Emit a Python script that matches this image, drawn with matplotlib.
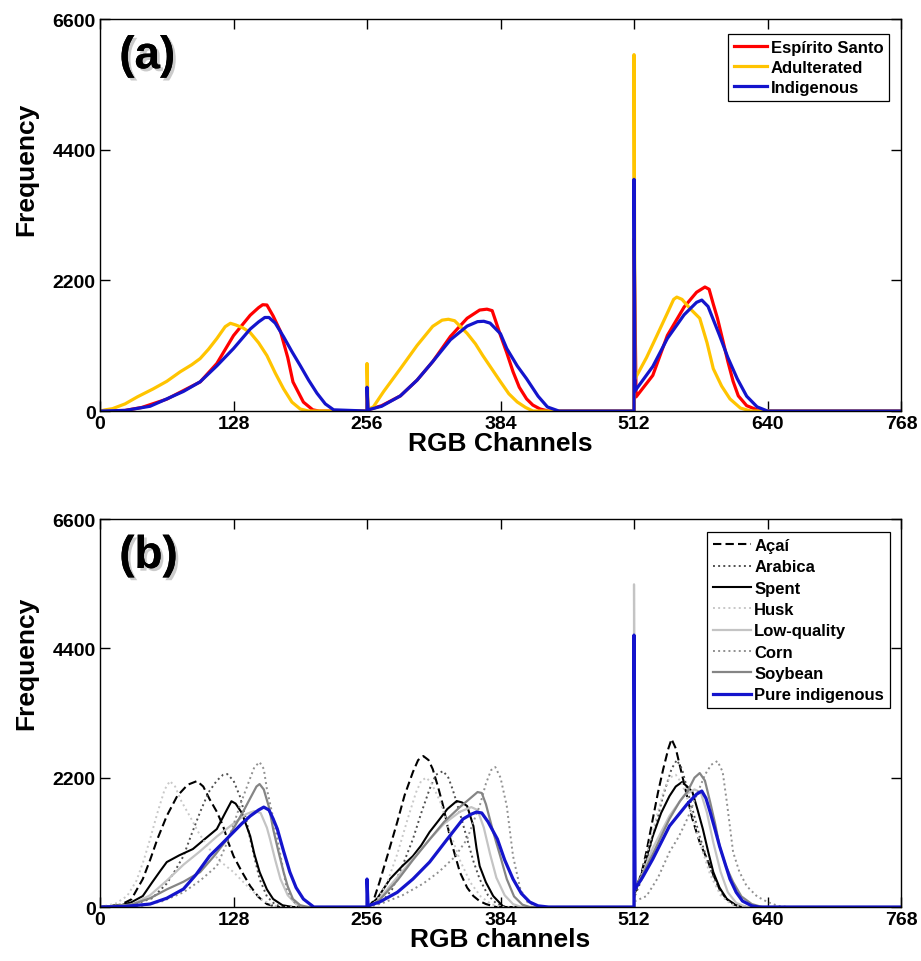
import matplotlib
matplotlib.use("Agg")
import matplotlib.pyplot as plt
import matplotlib.patheffects as pe

plt.rcParams['font.family'] = ['Liberation Sans', 'DejaVu Sans']
plt.rcParams['font.weight'] = 'bold'

# -----------------------------
# Histogram data (R: 0-255, G: 256-511, B: 512-767)
# -----------------------------

# (a) Espirito Santo
es_x = [0, 24, 40, 64, 96, 112, 128, 144, 152, 156, 160, 166, 173, 180, 185, 195, 204, 210, 256,
        256, 257, 270, 288, 304, 319, 336, 352, 364, 371, 376, 384, 390, 396, 402, 409, 415, 422, 430, 512,
        512, 514, 530, 544, 560, 572, 580, 584, 588, 592, 597, 602, 607, 612, 620, 630, 640, 768]
es_y = [0, 10, 60, 200, 490, 800, 1270, 1613, 1740, 1790, 1785, 1600, 1341, 900, 490, 150, 20, 0, 0,
        350, 20, 90, 255, 520, 832, 1256, 1562, 1700, 1715, 1690, 1273, 980, 662, 400, 204, 100, 34, 0, 0,
        2900, 238, 600, 1273, 1750, 2000, 2088, 2050, 1800, 1562, 1200, 832, 500, 255, 90, 20, 0, 0]

# (a) Adulterated
adul_x = [0, 5, 12, 24, 36, 51, 64, 77, 88, 96, 104, 112, 120, 125, 130, 137, 144, 152, 160, 168, 176, 184, 192, 200, 256,
          256, 257, 262, 272, 288, 304, 319, 328, 334, 340, 352, 360, 367, 376, 384, 392, 400, 408, 415, 512,
          512, 513, 524, 534, 544, 550, 553, 558, 566, 575, 582, 588, 596, 604, 614, 624, 768]
adul_y = [0, 20, 40, 120, 240, 373, 500, 662, 780, 883, 1040, 1220, 1420, 1477, 1450, 1400, 1320, 1150, 934, 640, 373, 150, 34, 0, 0,
          800, 30, 68, 330, 713, 1104, 1426, 1530, 1545, 1520, 1307, 1130, 934, 700, 492, 290, 153, 60, 0, 0,
          6000, 543, 900, 1273, 1650, 1880, 1918, 1880, 1720, 1562, 1150, 713, 420, 204, 50, 0, 0]

# (a) Indigenous
ind_x = [0, 24, 48, 64, 80, 96, 112, 128, 144, 152, 158, 162, 168, 176, 184, 192, 200, 208, 216, 224, 256,
         256, 257, 270, 288, 304, 319, 336, 352, 362, 368, 374, 384, 390, 400, 409, 420, 429, 440, 512,
         512, 513, 530, 544, 560, 572, 577, 583, 594, 602, 611, 620, 630, 640, 768]
ind_y = [0, 10, 80, 204, 330, 492, 760, 1052, 1380, 1500, 1575, 1575, 1480, 1250, 1000, 764, 520, 300, 120, 20, 0,
         400, 20, 80, 255, 520, 832, 1200, 1430, 1505, 1511, 1480, 1300, 1052, 760, 543, 250, 68, 0, 0,
         3900, 340, 750, 1222, 1620, 1830, 1868, 1760, 1273, 900, 543, 250, 70, 0, 0]

# (b) Acai
acai_x = [0, 20, 30, 41, 48, 55, 64, 74, 84, 93, 99, 105, 112, 118, 123, 128, 136, 144, 152, 160, 170, 256,
          256, 257, 262, 268, 276, 285, 292, 300, 305, 310, 315, 319, 324, 329, 336, 345, 352, 358, 364, 370, 380, 512,
          512, 513, 518, 524, 530, 535, 540, 545, 548, 552, 559, 568, 575, 582, 588, 594, 600, 607, 615, 768]
acai_y = [0, 40, 130, 476, 800, 1156, 1550, 1888, 2080, 2143, 2050, 1837, 1620, 1378, 1100, 867, 600, 357, 170, 51, 0, 0,
          300, 0, 100, 425, 900, 1446, 1900, 2296, 2500, 2568, 2500, 2347, 2050, 1718, 1156, 595, 330, 187, 100, 51, 0, 0,
          3000, 250, 476, 950, 1497, 1950, 2347, 2700, 2857, 2700, 2177, 1497, 1100, 816, 550, 306, 150, 50, 0, 0]

# (b) Arabica
arab_x = [0, 30, 50, 64, 72, 80, 88, 96, 104, 112, 118, 122, 128, 134, 140, 144, 148, 153, 160, 168, 176, 256,
          256, 257, 270, 280, 290, 300, 308, 316, 322, 329, 334, 338, 345, 352, 358, 364, 372, 380, 390, 512,
          512, 513, 520, 530, 540, 548, 553, 558, 566, 575, 585, 595, 605, 615, 768]
arab_y = [0, 30, 150, 400, 620, 867, 1250, 1616, 1950, 2150, 2250, 2262, 2150, 1888, 1500, 1156, 850, 476, 180, 40, 0, 0,
          200, 0, 80, 300, 700, 1156, 1600, 2007, 2250, 2313, 2200, 2007, 1600, 1156, 780, 476, 200, 60, 0, 0,
          2800, 200, 500, 1200, 1900, 2350, 2500, 2350, 1800, 1200, 650, 250, 60, 0, 0]

# (b) Spent
spent_x = [0, 20, 30, 41, 50, 58, 64, 76, 89, 100, 112, 120, 126, 130, 136, 144, 148, 153, 160, 166, 175, 185, 256,
           256, 257, 266, 278, 290, 300, 308, 316, 325, 333, 342, 347, 352, 358, 361, 364, 370, 377, 387, 512,
           512, 513, 520, 530, 538, 546, 552, 558, 563, 568, 573, 578, 583, 588, 594, 601, 610, 620, 768]
spent_y = [0, 30, 80, 187, 420, 620, 765, 880, 986, 1150, 1327, 1600, 1800, 1760, 1600, 1207, 900, 595, 300, 136, 30, 0, 0,
           250, 0, 150, 476, 700, 867, 1050, 1276, 1480, 1667, 1803, 1780, 1718, 1378, 1000, 697, 420, 187, 0, 0,
           3200, 300, 600, 1207, 1600, 1888, 2050, 2126, 2050, 1956, 1650, 1327, 950, 595, 330, 136, 30, 0, 0]

# (b) Husk
husk_x = [0, 15, 26, 35, 42, 48, 55, 62, 67, 72, 78, 86, 95, 105, 115, 128, 136, 144, 155, 165, 175, 256,
          256, 257, 265, 275, 285, 295, 303, 308, 313, 318, 326, 335, 345, 355, 365, 375, 385, 512,
          512, 513, 520, 530, 540, 546, 552, 558, 566, 575, 585, 595, 605, 615, 768]
husk_y = [0, 60, 187, 450, 800, 1156, 1600, 2000, 2143, 2050, 1800, 1548, 1250, 986, 780, 595, 450, 306, 130, 30, 0, 0,
          200, 0, 100, 400, 900, 1500, 1950, 2150, 2200, 2100, 1800, 1300, 800, 420, 180, 50, 0, 0,
          3500, 300, 600, 1300, 1950, 2200, 2250, 2100, 1700, 1100, 550, 200, 50, 0, 0]

# (b) Low-quality
lowq_x = [0, 30, 48, 64, 80, 96, 112, 128, 140, 148, 154, 160, 163, 168, 173, 180, 188, 196, 256,
          256, 257, 266, 280, 300, 316, 330, 345, 356, 362, 368, 374, 380, 388, 396, 404, 512,
          512, 513, 520, 530, 546, 560, 570, 576, 582, 588, 595, 602, 610, 620, 768]
lowq_y = [0, 40, 200, 450, 720, 950, 1200, 1420, 1580, 1633, 1600, 1350, 1156, 800, 476, 200, 50, 0, 0,
          300, 0, 100, 400, 820, 1150, 1420, 1620, 1700, 1650, 1350, 900, 500, 200, 50, 0, 0,
          5490, 300, 550, 1000, 1550, 1900, 2000, 1950, 1600, 1100, 600, 250, 70, 0, 0]

# (b) Corn
corn_x = [0, 40, 60, 80, 96, 112, 122, 128, 134, 142, 148, 153, 157, 160, 165, 170, 175, 179, 185, 192, 256,
          256, 257, 270, 290, 310, 325, 340, 352, 358, 364, 370, 375, 379, 384, 390, 396, 403, 410, 420, 512,
          512, 513, 524, 535, 546, 555, 563, 572, 580, 586, 592, 597, 601, 607, 613, 620, 630, 640, 650, 660, 768]
corn_y = [0, 20, 100, 250, 450, 697, 1100, 1400, 1718, 2100, 2380, 2466, 2350, 2007, 1600, 1156, 700, 306, 100, 0, 0,
          150, 0, 60, 200, 400, 600, 850, 1156, 1450, 1718, 2100, 2330, 2381, 2200, 1718, 867, 306, 80, 0, 0,
          2500, 100, 187, 500, 935, 1200, 1497, 1900, 2250, 2420, 2483, 2300, 1786, 935, 600, 357, 180, 85, 20, 0, 0]

# (b) Soybean
soy_x = [0, 30, 48, 64, 80, 96, 110, 122, 130, 137, 144, 150, 153, 157, 162, 166, 171, 176, 180, 185, 192, 200, 256,
         256, 257, 268, 285, 300, 316, 330, 345, 355, 362, 366, 370, 377, 384, 390, 397, 405, 412, 512,
         512, 513, 520, 530, 546, 556, 563, 570, 575, 580, 585, 590, 594, 600, 607, 615, 625, 635, 768]
soy_y = [0, 40, 150, 300, 430, 595, 880, 1156, 1400, 1616, 1850, 2050, 2092, 2000, 1700, 1327, 950, 595, 350, 136, 30, 0, 0,
         350, 0, 120, 450, 800, 1150, 1450, 1700, 1850, 1956, 1940, 1750, 1276, 850, 476, 180, 40, 0, 0,
         3800, 300, 550, 900, 1500, 1800, 1956, 2200, 2279, 2150, 1786, 1400, 1037, 700, 425, 180, 50, 0, 0]

# (b) Pure indigenous
pure_x = [0, 24, 48, 64, 80, 92, 105, 116, 128, 136, 144, 152, 157, 162, 166, 170, 176, 182, 188, 195, 205, 256,
          256, 257, 268, 285, 300, 316, 333, 348, 356, 361, 366, 372, 381, 388, 396, 404, 412, 420, 430, 512,
          512, 513, 520, 530, 546, 563, 572, 577, 581, 585, 590, 594, 600, 604, 610, 616, 625, 632, 768]
pure_y = [0, 10, 51, 150, 306, 550, 867, 1060, 1276, 1420, 1548, 1650, 1700, 1650, 1500, 1327, 950, 595, 330, 136, 0, 0,
          476, 20, 85, 250, 476, 765, 1156, 1497, 1580, 1616, 1600, 1450, 1156, 800, 476, 230, 85, 20, 0, 0,
          4626, 306, 500, 816, 1378, 1752, 1920, 1973, 1850, 1616, 1300, 1037, 700, 476, 250, 102, 20, 0, 0]

x_ticks = [0, 128, 256, 384, 512, 640, 768]
y_ticks = [0, 2200, 4400, 6600]

BLUE = '#1414CC'


def style_axes(ax, xlabel, tag, ylab_y):
    ax.set_xlim(0, 768)
    ax.set_ylim(0, 6600)
    ax.set_xticks(x_ticks)
    ax.set_yticks(y_ticks)
    ax.tick_params(direction='in', top=True, right=True, length=7, width=1,
                   labelsize=14, pad=3)
    for lab in ax.get_xticklabels() + ax.get_yticklabels():
        lab.set_fontweight('bold')
    for sp in ax.spines.values():
        sp.set_linewidth(1.0)
    ax.set_xlabel(xlabel, fontsize=19, fontweight='bold', labelpad=-1)
    ax.set_ylabel("Frequency", fontsize=19, fontweight='bold')
    ax.yaxis.set_label_coords(-0.077, ylab_y)
    ax.text(0.024, 0.905, tag, transform=ax.transAxes, fontsize=33, fontweight='bold',
            va='center', ha='left',
            path_effects=[pe.withSimplePatchShadow(offset=(2, -2), shadow_rgbFace='#999999', alpha=0.5),
                          pe.Normal()])


fig = plt.figure(figsize=(9.21, 9.62), dpi=100)

# -----------------------------
# (a) Espirito Santo vs adulterated vs indigenous
# -----------------------------
ax1 = fig.add_axes([0.1086, 0.5717, 0.8697, 0.4075])
ax1.plot(es_x, es_y, color='#FF0000', lw=2.3, label='Espírito Santo')
ax1.plot(adul_x, adul_y, color='#FFC400', lw=2.3, label='Adulterated')
ax1.plot(ind_x, ind_y, color=BLUE, lw=2.3, label='Indigenous')
style_axes(ax1, "RGB Channels", "(a)", 0.62)
leg1 = ax1.legend(loc='upper right', bbox_to_anchor=(0.985, 0.962), borderaxespad=0,
                  fancybox=False, edgecolor='black', framealpha=1, handlelength=2.0,
                  handletextpad=0.2, labelspacing=0.3, borderpad=0.35,
                  prop={'size': 12, 'weight': 'bold'})
leg1.get_frame().set_linewidth(0.9)

# -----------------------------
# (b) Adulterants vs pure indigenous
# -----------------------------
ax2 = fig.add_axes([0.1086, 0.0561, 0.8697, 0.4033])
ax2.plot(acai_x, acai_y, color='black', lw=1.5, ls=(0, (4, 2)), label='Açaí')
ax2.plot(arab_x, arab_y, color='#505050', lw=1.4, ls=':', label='Arabica')
ax2.plot(spent_x, spent_y, color='black', lw=1.5, label='Spent')
ax2.plot(husk_x, husk_y, color='#C8C8C8', lw=1.4, ls=':', label='Husk')
ax2.plot(lowq_x, lowq_y, color='#C4C4C4', lw=1.6, label='Low-quality')
ax2.plot(corn_x, corn_y, color='#909090', lw=1.4, ls=':', label='Corn')
ax2.plot(soy_x, soy_y, color='#858585', lw=1.6, label='Soybean')
ax2.plot(pure_x, pure_y, color=BLUE, lw=2.3, label='Pure indigenous')
style_axes(ax2, "RGB channels", "(b)", 0.63)
leg2 = ax2.legend(loc='upper right', bbox_to_anchor=(0.986, 0.966), borderaxespad=0,
                  fancybox=False, edgecolor='black', framealpha=1, handlelength=2.3,
                  handletextpad=0.2, labelspacing=0.38, borderpad=0.35,
                  prop={'size': 12, 'weight': 'bold'})
leg2.get_frame().set_linewidth(0.9)

fig.savefig("out.png", dpi=100)
